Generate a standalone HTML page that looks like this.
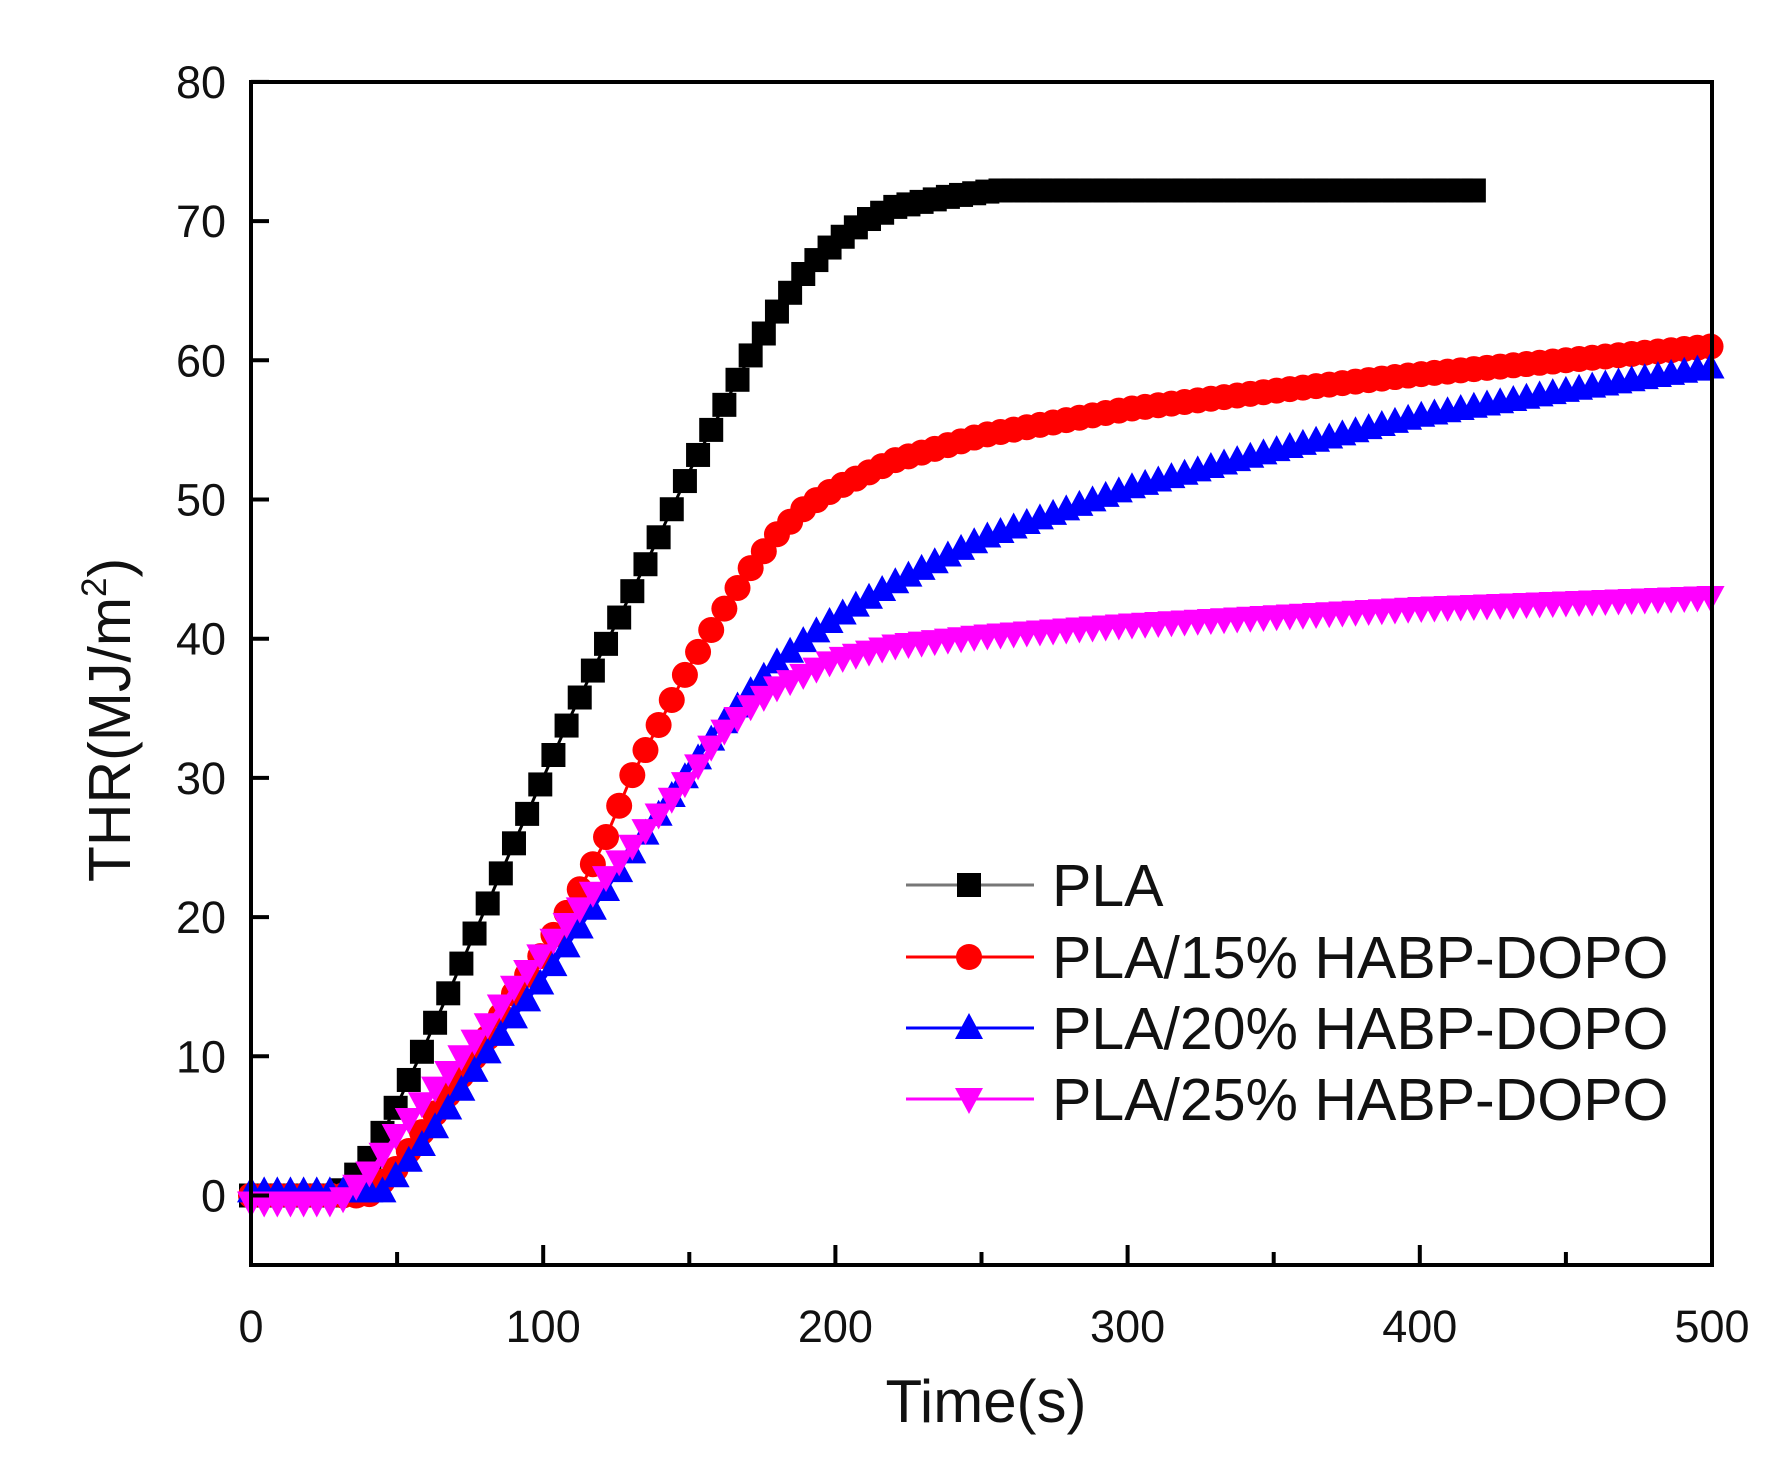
<!DOCTYPE html>
<html><head><meta charset="utf-8"><style>
html,body{margin:0;padding:0;background:#fff}
svg{display:block;font-family:"Liberation Sans",Arial,sans-serif}
</style></head><body>
<svg id="s" width="1782" height="1462" viewBox="0 0 1782 1462" xmlns="http://www.w3.org/2000/svg">
<rect width="1782" height="1462" fill="#fff"/>
<g id="series"></g>
<rect x="251" y="82" width="1461" height="1183" fill="none" stroke="#000" stroke-width="4"/>
<g id="ticks" stroke="#000" stroke-width="4"></g>
<g id="labels" font-size="45" fill="#111"></g>
<text x="986" y="1422" font-size="60" text-anchor="middle" fill="#111">Time(s)</text>
<text transform="translate(130,720) rotate(-90)" font-size="59" text-anchor="middle" fill="#111">THR(MJ/m<tspan font-size="35" dy="-24">2</tspan><tspan dy="24">)</tspan></text>
<g font-size="59" fill="#111">
<line x1="906" y1="885" x2="1034" y2="885" stroke="#777" stroke-width="3"/>
<rect x="957" y="873" width="24" height="24" fill="#000"/>
<text x="1052" y="906">PLA</text>
<line x1="906" y1="957" x2="1034" y2="957" stroke="#f00" stroke-width="3"/>
<circle cx="969" cy="957" r="13" fill="#f00"/>
<text x="1052" y="978">PLA/15% HABP-DOPO</text>
<line x1="906" y1="1028" x2="1034" y2="1028" stroke="#00f" stroke-width="3"/>
<polygon points="969,1013 983,1039 955,1039" fill="#00f"/>
<text x="1052" y="1049">PLA/20% HABP-DOPO</text>
<line x1="906" y1="1099" x2="1034" y2="1099" stroke="#f0f" stroke-width="3"/>
<polygon points="955,1088 983,1088 969,1114" fill="#f0f"/>
<text x="1052" y="1120">PLA/25% HABP-DOPO</text>
</g>
</svg>
<script>
var NS="http://www.w3.org/2000/svg";
function X(t){return 251+t*2.922}
function Y(v){return 1195.5-v*13.92}
function el(n,a,p){var e=document.createElementNS(NS,n);for(var k in a)e.setAttribute(k,a[k]);p.appendChild(e);return e}
var tk=document.getElementById('ticks'),lb=document.getElementById('labels');
for(var t=0;t<=500;t+=50){var L=t%100==0?20:13;el('line',{x1:X(t),y1:1265,x2:X(t),y2:1265-L},tk);
 if(t%100==0){var e=el('text',{x:X(t),y:1342,'text-anchor':'middle'},lb);e.textContent=t;}}
for(var v=0;v<=80;v+=10){el('line',{x1:251,y1:Y(v),x2:269,y2:Y(v)},tk);
 var e=el('text',{x:226,y:Y(v)+16,'text-anchor':'end'},lb);e.textContent=v;}
function interp(d,t){for(var i=1;i<d.length;i++){if(t<=d[i][0]){var a=d[i-1],b=d[i];return a[1]+(b[1]-a[1])*(t-a[0])/(b[0]-a[0]);}}return d[d.length-1][1]}
var S=[
 {c:'#000',m:'sq',end:420,d:[[0,0],[30,0],[40,2.5],[50,6.5],[60,11],[70,15.7],[80,20.5],[90,25.3],[100,30],[110,34.7],[120,39],[130,43.2],[140,47.5],[150,52],[160,56],[170,60],[180,63.5],[190,66.5],[200,68.5],[210,70],[220,71],[240,71.8],[255,72.2],[420,72.2]]},
 {c:'#f00',m:'ci',end:500,d:[[0,0],[40,0],[50,2],[60,5],[70,8],[80,11],[90,14.5],[100,17.5],[110,21],[120,25],[130,30],[140,34],[150,38],[160,41.5],[170,44.8],[180,47.5],[190,49.5],[200,50.8],[220,52.8],[250,54.6],[300,56.5],[350,57.8],[400,59],[450,60],[500,61]]},
 {c:'#00f',m:'up',end:500,d:[[0,0.3],[35,0.3],[45,0.3],[50,1.5],[60,4],[70,7],[80,10],[90,12.8],[100,15.5],[110,18.5],[120,21.5],[130,24.5],[140,27.5],[150,30.5],[160,33.5],[170,36],[180,38.3],[190,40],[200,41.5],[220,44],[250,47.2],[300,50.8],[350,53.5],[400,56],[450,57.8],[500,59.5]]},
 {c:'#f0f',m:'dn',end:500,d:[[0,-0.5],[30,-0.5],[40,1.5],[50,4.5],[60,7],[70,9.5],[80,12],[90,15],[100,17.5],[110,20],[120,22.5],[130,25],[140,27.5],[150,30],[160,33],[170,35],[180,36.5],[190,37.5],[200,38.5],[220,39.5],[250,40.2],[300,41],[400,42.2],[500,43]]}
];
var g=document.getElementById('series');
S.forEach(function(s){
 var pts=[];for(var t=0;t<=s.end;t+=1)pts.push(X(t).toFixed(1)+','+Y(interp(s.d,t)).toFixed(1));
 el('polyline',{points:pts.join(' '),fill:'none',stroke:s.c,'stroke-width':3},g);
 for(var t=0;t<=s.end;t+=4.5){var x=X(t),y=Y(interp(s.d,t));
  if(s.m=='sq')el('rect',{x:x-12,y:y-12,width:24,height:24,fill:s.c},g);
  else if(s.m=='ci')el('circle',{cx:x,cy:y,r:13,fill:s.c},g);
  else if(s.m=='up')el('polygon',{points:(x)+','+(y-15)+' '+(x+14)+','+(y+11)+' '+(x-14)+','+(y+11),fill:s.c},g);
  else el('polygon',{points:(x-14)+','+(y-11)+' '+(x+14)+','+(y-11)+' '+(x)+','+(y+15),fill:s.c},g);
 }
});
</script>
</body></html>
